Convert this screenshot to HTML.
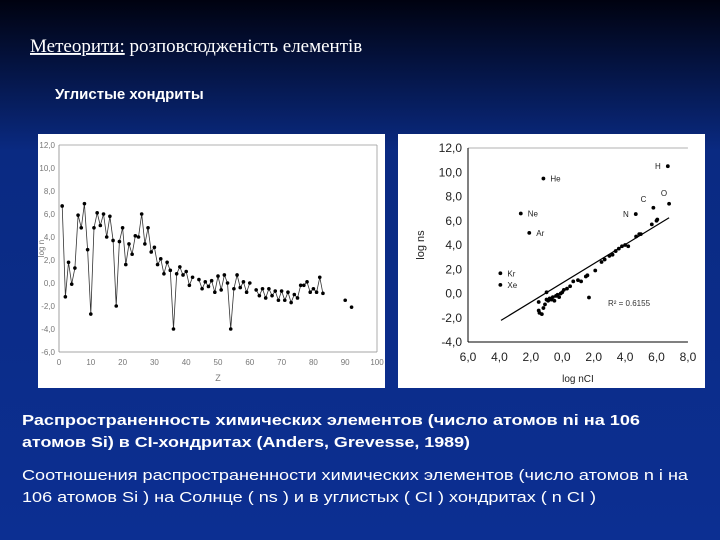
<!DOCTYPE html>
<html><head><meta charset="utf-8"><style>
html,body{margin:0;padding:0;width:720px;height:540px;overflow:hidden;background:#0b2d8c}
svg text{font-family:"Liberation Sans",sans-serif}
</style></head><body>
<svg id="slide" width="720" height="540" xmlns="http://www.w3.org/2000/svg">
<defs><linearGradient id="bg" x1="0" y1="0" x2="0" y2="1">
<stop offset="0" stop-color="#000210"/><stop offset="0.28" stop-color="#0a2a82"/><stop offset="1" stop-color="#0c2f92"/></linearGradient></defs>
<rect width="720" height="540" fill="url(#bg)"/>
<text x="30" y="52" font-size="19" fill="#fff" style="font-family:'Liberation Serif',serif"><tspan text-decoration="underline">Метеорити:</tspan>  розповсюдженість елементів</text>
<text x="55" y="99" font-size="15" font-weight="bold" fill="#fff">Углистые хондриты</text>

<rect x="38" y="134" width="347" height="254" fill="#fff"/>
<g id="left"></g>
<rect x="398" y="134" width="307" height="254" fill="#fff"/>
<g id="right"></g>

<text x="22" y="425" font-size="15" font-weight="bold" fill="#fff" textLength="618" lengthAdjust="spacingAndGlyphs">Распространенность химических элементов (число атомов ni на 106</text>
<text x="22" y="447" font-size="15" font-weight="bold" fill="#fff" textLength="448" lengthAdjust="spacingAndGlyphs">атомов Si) в CI-хондритах (Anders, Grevesse, 1989)</text>
<text x="22" y="480" font-size="15" fill="#fff" textLength="666" lengthAdjust="spacingAndGlyphs">Соотношения распространенности химических элементов (число атомов n i на</text>
<text x="22" y="502" font-size="15" fill="#fff" textLength="574" lengthAdjust="spacingAndGlyphs">106 атомов Si ) на Солнце ( ns ) и в углистых ( CI ) хондритах ( n CI )</text>
</svg>
<script>
const zVals=[1,2,3,4,5,6,7,8,9,10,11,12,13,14,15,16,17,18,19,20,21,22,23,24,25,26,27,28,29,30,31,32,33,34,35,36,37,38,39,40,41,42,null,44,45,46,47,48,49,50,51,52,53,54,55,56,57,58,59,60,null,62,63,64,65,66,67,68,69,70,71,72,73,74,75,76,77,78,79,80,81,82,83,null,90,null,92];
const logN=[6.7,-1.2,1.8,-0.1,1.3,5.9,4.8,6.9,2.9,-2.7,4.8,6.1,5.0,6.0,4.0,5.8,3.7,-2.0,3.6,4.8,1.6,3.4,2.5,4.1,4.0,6.0,3.4,4.8,2.7,3.1,1.6,2.1,0.8,1.8,1.1,-4.0,0.8,1.4,0.7,1.0,-0.2,0.5,null,0.3,-0.5,0.1,-0.3,0.2,-0.8,0.6,-0.6,0.7,0.0,-4.0,-0.5,0.7,-0.4,0.1,-0.8,0.0,null,-0.6,-1.1,-0.5,-1.3,-0.5,-1.1,-0.7,-1.5,-0.7,-1.5,-0.8,-1.7,-1.0,-1.3,-0.2,-0.2,0.1,-0.8,-0.5,-0.8,0.5,-0.9,null,-1.5,null,-2.1];
const leftYTicks=["12,0","10,0","8,0","6,0","4,0","2,0","0,0","-2,0","-4,0","-6,0"];
const leftYVals=[12,10,8,6,4,2,0,-2,-4,-6];
const leftXTicks=[0,10,20,30,40,50,60,70,80,90,100];

const ciX=[-1.2,-2.64,-2.1,-3.94,-3.94,6.72,6.8,5.8,4.68,1.7,-1.5,-1.45,-1.3,-1.2,-1.1,-1.0,-0.9,-0.8,-0.7,-0.6,-0.5,-0.4,-0.3,-0.2,-0.1,0.0,0.1,0.3,0.5,0.7,1.0,1.2,1.5,1.6,2.1,2.5,2.7,3.0,3.2,3.4,3.6,3.8,4.0,4.2,4.7,4.9,5.0,5.7,6.0,6.05,-1.5,-1.0];
const sunY=[9.48,6.6,5.0,1.67,0.71,10.5,7.4,7.07,6.55,-0.33,-1.4,-1.6,-1.7,-1.2,-0.9,-0.5,-0.6,-0.4,-0.5,-0.3,-0.6,-0.2,-0.1,-0.3,0.0,0.1,0.3,0.4,0.6,1.0,1.1,1.0,1.4,1.5,1.9,2.6,2.8,3.1,3.2,3.5,3.7,3.9,4.0,3.9,4.7,4.9,4.9,5.7,6.0,6.1,-0.7,0.1];
const elemLabels=["He","Ne","Ar","Kr","Xe","H","O","C","N"];
const rightYTicks=["12,0","10,0","8,0","6,0","4,0","2,0","0,0","-2,0","-4,0"];
const rightYVals=[12,10,8,6,4,2,0,-2,-4];
const rightXTicks=["6,0","4,0","2,0","0,0","2,0","4,0","6,0","8,0"];
const rightXVals=[-6,-4,-2,0,2,4,6,8];
const fitX=[-3.9,6.8];
const fitY=[-2.22,6.25];

const NS="http://www.w3.org/2000/svg";
function mk(p,tag,attrs,txt){const e=document.createElementNS(NS,tag);for(const k in attrs)e.setAttribute(k,attrs[k]);if(txt!==undefined)e.textContent=txt;p.appendChild(e);return e;}

// left chart
const L=document.getElementById('left');
const lx=z=>59+z*3.18, ly=v=>145+(12-v)*11.5;
let e=mk(L,'line',{x1:lx(0),y1:ly(12),x2:lx(100),y2:ly(12),stroke:'#999','stroke-width':0.8});


e=mk(L,'line',{x1:lx(100),y1:ly(12),x2:lx(100),y2:ly(-6),stroke:'#999','stroke-width':0.8});


e=mk(L,'line',{x1:lx(0),y1:ly(12),x2:lx(0),y2:ly(-6),stroke:'#888','stroke-width':0.8});


e=mk(L,'line',{x1:lx(0),y1:ly(-6),x2:lx(100),y2:ly(-6),stroke:'#888','stroke-width':0.8});


leftYVals.forEach((v,i)=>{const t=mk(L,'text',{x:lx(0)-4,y:ly(v)+3,'font-size':8,fill:'#777','text-anchor':'end'},leftYTicks[i]);

});
leftXTicks.forEach(v=>{const t=mk(L,'text',{x:lx(v),y:ly(-6)+13,'font-size':8,fill:'#777','text-anchor':'middle'},String(v));

});
e=mk(L,'text',{x:lx(50),y:381,'font-size':9,fill:'#777','text-anchor':'middle'},'Z');


e=mk(L,'text',{x:44,y:ly(3),'font-size':8,fill:'#777','text-anchor':'middle',transform:'rotate(-90 44 '+ly(3)+')'},'log n');


let d='',pen=false;
for(let i=0;i<zVals.length;i++){if(zVals[i]===null||logN[i]===null){pen=false;continue;}d+=(pen?'L':'M')+lx(zVals[i]).toFixed(1)+' '+ly(logN[i]).toFixed(1)+' ';pen=true;}
e=mk(L,'path',{d:d,fill:'none',stroke:'#333','stroke-width':0.8});


for(let i=0;i<zVals.length;i++){if(zVals[i]===null)continue;const c=mk(L,'circle',{cx:lx(zVals[i]),cy:ly(logN[i]),r:1.8,fill:'#000'});

}

// right chart
const R=document.getElementById('right');
const rx=x=>468+(x+6)*15.71, ry=v=>148+(12-v)*12.125;
e=mk(R,'line',{x1:rx(-6),y1:ry(12),x2:rx(8),y2:ry(12),stroke:'#999','stroke-width':0.8});


e=mk(R,'line',{x1:rx(-6),y1:ry(12),x2:rx(-6),y2:ry(-4),stroke:'#000','stroke-width':1});


e=mk(R,'line',{x1:rx(-6),y1:ry(-4),x2:rx(8),y2:ry(-4),stroke:'#000','stroke-width':1});


rightYVals.forEach((v,i)=>{const t=mk(R,'text',{x:rx(-6)-6,y:ry(v)+4,'font-size':12,fill:'#222','text-anchor':'end'},rightYTicks[i]);

});
rightXVals.forEach((v,i)=>{const t=mk(R,'text',{x:rx(v),y:ry(-4)+19,'font-size':12,fill:'#222','text-anchor':'middle'},rightXTicks[i]);

});
e=mk(R,'text',{x:rx(1),y:382,'font-size':10,fill:'#222','text-anchor':'middle'},'log nCI');


e=mk(R,'text',{x:424,y:ry(4),'font-size':11,fill:'#222','text-anchor':'middle',transform:'rotate(-90 424 '+ry(4)+')'},'log ns');


e=mk(R,'line',{x1:rx(fitX[0]),y1:ry(fitY[0]),x2:rx(fitX[1]),y2:ry(fitY[1]),stroke:'#000','stroke-width':1.2});


e=mk(R,'text',{x:608,y:306,'font-size':8,fill:'#333'},'R² = 0.6155');


for(let i=0;i<ciX.length;i++){const c=mk(R,'circle',{cx:rx(ciX[i]),cy:ry(sunY[i]),r:1.9,fill:'#000'});


if(i<elemLabels.length){const left=(elemLabels[i]==='H'||elemLabels[i]==='N'||elemLabels[i]==='C');
const t=mk(R,'text',{x:rx(ciX[i])+(left?-7:7),y:ry(sunY[i])+(elemLabels[i]==='C'?-6:(elemLabels[i]==='O'?-8:3)),'font-size':8,fill:'#222','text-anchor':left?'end':'start'},elemLabels[i]);
if(elemLabels[i]==='O'){t.setAttribute('text-anchor','end');t.setAttribute('x',rx(ciX[i])-2);}

}}
</script>
</body></html>
